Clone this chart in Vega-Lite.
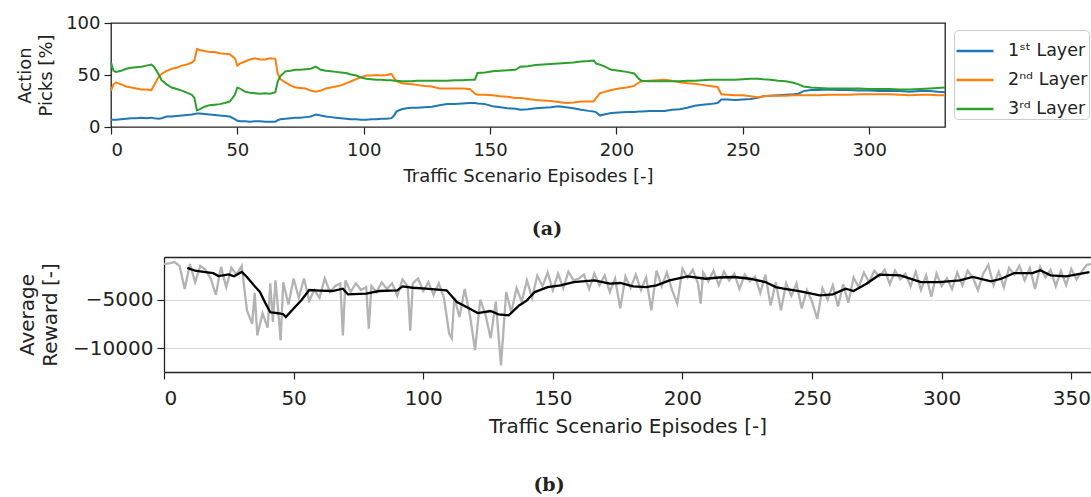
{
  "$schema": "https://vega.github.io/schema/vega-lite/v6.json",
  "background": "white",
  "padding": {"left": 15, "top": 13, "right": 0, "bottom": 0},
  "datasets": {
    "picks": [
      {"e": 0, "l1": 7, "l2": 35, "l3": 62},
      {"e": 1, "l1": 7, "l2": 41, "l3": 54},
      {"e": 2, "l1": 7, "l2": 43, "l3": 53},
      {"e": 4, "l1": 7.5, "l2": 41, "l3": 54},
      {"e": 6, "l1": 8, "l2": 39, "l3": 56},
      {"e": 8, "l1": 8.5, "l2": 38, "l3": 57},
      {"e": 10, "l1": 8.5, "l2": 37, "l3": 57.5},
      {"e": 12, "l1": 9, "l2": 36, "l3": 58},
      {"e": 14, "l1": 8.5, "l2": 36, "l3": 59},
      {"e": 16, "l1": 9, "l2": 35.5, "l3": 60},
      {"e": 17, "l1": 8.5, "l2": 40, "l3": 58},
      {"e": 19, "l1": 8, "l2": 49, "l3": 50},
      {"e": 20, "l1": 8.5, "l2": 51, "l3": 45},
      {"e": 22, "l1": 10, "l2": 54, "l3": 41},
      {"e": 24, "l1": 10, "l2": 56, "l3": 38},
      {"e": 26, "l1": 10.5, "l2": 57, "l3": 36.5},
      {"e": 28, "l1": 11, "l2": 59, "l3": 35},
      {"e": 30, "l1": 11.5, "l2": 60, "l3": 33},
      {"e": 32, "l1": 12, "l2": 62, "l3": 31},
      {"e": 33, "l1": 12.5, "l2": 64, "l3": 28},
      {"e": 34, "l1": 13, "l2": 75, "l3": 16},
      {"e": 35, "l1": 13, "l2": 74, "l3": 17},
      {"e": 37, "l1": 12.5, "l2": 73, "l3": 19.5},
      {"e": 39, "l1": 12, "l2": 72, "l3": 21},
      {"e": 41, "l1": 11.5, "l2": 72, "l3": 21.5},
      {"e": 43, "l1": 11, "l2": 71, "l3": 22},
      {"e": 45, "l1": 10.5, "l2": 70.5, "l3": 23},
      {"e": 47, "l1": 10, "l2": 70, "l3": 24.5},
      {"e": 49, "l1": 7.5, "l2": 66, "l3": 31},
      {"e": 50, "l1": 6, "l2": 59, "l3": 38},
      {"e": 51, "l1": 5.5, "l2": 61, "l3": 37},
      {"e": 53, "l1": 5.5, "l2": 63, "l3": 34},
      {"e": 55, "l1": 5, "l2": 65, "l3": 33},
      {"e": 57, "l1": 5.5, "l2": 66, "l3": 32.5},
      {"e": 59, "l1": 5.5, "l2": 65, "l3": 32},
      {"e": 61, "l1": 5, "l2": 65, "l3": 32.5},
      {"e": 63, "l1": 5, "l2": 66, "l3": 32},
      {"e": 65, "l1": 5, "l2": 65.5, "l3": 33.5},
      {"e": 66, "l1": 6.5, "l2": 51, "l3": 44},
      {"e": 67, "l1": 7.5, "l2": 46, "l3": 49},
      {"e": 69, "l1": 8, "l2": 43, "l3": 53.5},
      {"e": 71, "l1": 8.5, "l2": 40, "l3": 54},
      {"e": 73, "l1": 9, "l2": 38, "l3": 55},
      {"e": 75, "l1": 9, "l2": 37.5, "l3": 55},
      {"e": 77, "l1": 9.5, "l2": 37, "l3": 55.5},
      {"e": 79, "l1": 10, "l2": 35, "l3": 56},
      {"e": 81, "l1": 12, "l2": 34, "l3": 58},
      {"e": 83, "l1": 11, "l2": 35, "l3": 55},
      {"e": 85, "l1": 10, "l2": 37, "l3": 54},
      {"e": 87, "l1": 9.5, "l2": 38, "l3": 53.5},
      {"e": 89, "l1": 9, "l2": 39, "l3": 53},
      {"e": 91, "l1": 8.5, "l2": 40, "l3": 52.5},
      {"e": 93, "l1": 8, "l2": 42, "l3": 52},
      {"e": 95, "l1": 7.5, "l2": 44, "l3": 50.5},
      {"e": 97, "l1": 7.5, "l2": 46, "l3": 49.5},
      {"e": 99, "l1": 7, "l2": 48, "l3": 47.5},
      {"e": 101, "l1": 7, "l2": 49.5, "l3": 46.5},
      {"e": 103, "l1": 7.5, "l2": 49.5, "l3": 46},
      {"e": 105, "l1": 7.5, "l2": 50, "l3": 45.5},
      {"e": 107, "l1": 8, "l2": 49.5, "l3": 45.5},
      {"e": 109, "l1": 8, "l2": 50, "l3": 45},
      {"e": 111, "l1": 8.5, "l2": 51, "l3": 45},
      {"e": 112, "l1": 11, "l2": 47, "l3": 44.5},
      {"e": 113, "l1": 15, "l2": 44, "l3": 44.5},
      {"e": 115, "l1": 17, "l2": 42, "l3": 44},
      {"e": 117, "l1": 18, "l2": 41.5, "l3": 44},
      {"e": 119, "l1": 18.5, "l2": 41, "l3": 44},
      {"e": 121, "l1": 18.5, "l2": 40.5, "l3": 44.5},
      {"e": 124, "l1": 19, "l2": 39.5, "l3": 44.5},
      {"e": 127, "l1": 19.5, "l2": 39, "l3": 44.5},
      {"e": 130, "l1": 21, "l2": 37, "l3": 44.5},
      {"e": 133, "l1": 22, "l2": 37, "l3": 44.5},
      {"e": 136, "l1": 22, "l2": 37, "l3": 45},
      {"e": 139, "l1": 22.5, "l2": 37, "l3": 45},
      {"e": 142, "l1": 23, "l2": 36.5, "l3": 45.5},
      {"e": 144, "l1": 23, "l2": 32, "l3": 45.5},
      {"e": 145, "l1": 22.5, "l2": 31, "l3": 52},
      {"e": 148, "l1": 22, "l2": 31, "l3": 52.5},
      {"e": 151, "l1": 20, "l2": 30.5, "l3": 53.5},
      {"e": 154, "l1": 19, "l2": 29.5, "l3": 54},
      {"e": 157, "l1": 18, "l2": 29, "l3": 54.5},
      {"e": 160, "l1": 17.5, "l2": 28, "l3": 55},
      {"e": 162, "l1": 16.5, "l2": 28, "l3": 58},
      {"e": 165, "l1": 17, "l2": 27, "l3": 58.5},
      {"e": 168, "l1": 18, "l2": 26, "l3": 59.5},
      {"e": 171, "l1": 18.5, "l2": 25.5, "l3": 60},
      {"e": 174, "l1": 19, "l2": 25, "l3": 60.5},
      {"e": 177, "l1": 20, "l2": 24, "l3": 61},
      {"e": 180, "l1": 19, "l2": 23, "l3": 61.5},
      {"e": 183, "l1": 18, "l2": 23.5, "l3": 62},
      {"e": 186, "l1": 16.5, "l2": 24.5, "l3": 63},
      {"e": 189, "l1": 15.5, "l2": 24.5, "l3": 63.5},
      {"e": 191, "l1": 15, "l2": 24.5, "l3": 64},
      {"e": 192, "l1": 14, "l2": 28, "l3": 61},
      {"e": 193.5, "l1": 11, "l2": 32.5, "l3": 60},
      {"e": 195, "l1": 12, "l2": 33.5, "l3": 58.5},
      {"e": 198, "l1": 13.5, "l2": 35.5, "l3": 55},
      {"e": 201, "l1": 14, "l2": 37, "l3": 54},
      {"e": 204, "l1": 14.5, "l2": 38, "l3": 53},
      {"e": 207, "l1": 14.5, "l2": 39.5, "l3": 51.5},
      {"e": 209, "l1": 15, "l2": 43, "l3": 46},
      {"e": 210, "l1": 15, "l2": 44, "l3": 44.5},
      {"e": 213, "l1": 15.5, "l2": 44.5, "l3": 44},
      {"e": 216, "l1": 15.5, "l2": 45, "l3": 44},
      {"e": 219, "l1": 15.5, "l2": 45.5, "l3": 44},
      {"e": 222, "l1": 16.5, "l2": 44.5, "l3": 44},
      {"e": 225, "l1": 17, "l2": 43, "l3": 44},
      {"e": 228, "l1": 18.5, "l2": 42, "l3": 44.5},
      {"e": 231, "l1": 20.5, "l2": 41.5, "l3": 44.5},
      {"e": 234, "l1": 21.5, "l2": 40.5, "l3": 45},
      {"e": 237, "l1": 22, "l2": 39.5, "l3": 45.5},
      {"e": 240, "l1": 23, "l2": 38.5, "l3": 45.5},
      {"e": 241.5, "l1": 26.5, "l2": 31.5, "l3": 45.5},
      {"e": 244, "l1": 26.5, "l2": 31, "l3": 45.5},
      {"e": 247, "l1": 26, "l2": 30.5, "l3": 45.5},
      {"e": 250, "l1": 26.5, "l2": 30.5, "l3": 46},
      {"e": 253, "l1": 27, "l2": 29.5, "l3": 46.5},
      {"e": 256, "l1": 28, "l2": 28.5, "l3": 46.5},
      {"e": 258, "l1": 29.5, "l2": 29.5, "l3": 46},
      {"e": 261, "l1": 30, "l2": 30, "l3": 45.5},
      {"e": 264, "l1": 30.5, "l2": 30, "l3": 44.5},
      {"e": 267, "l1": 31, "l2": 30, "l3": 44},
      {"e": 270, "l1": 31.5, "l2": 30.5, "l3": 42.5},
      {"e": 272, "l1": 32, "l2": 30.5, "l3": 41},
      {"e": 274, "l1": 34.5, "l2": 30.5, "l3": 39},
      {"e": 277, "l1": 35.5, "l2": 30.5, "l3": 38},
      {"e": 280, "l1": 35.5, "l2": 30.5, "l3": 37.5},
      {"e": 284, "l1": 36, "l2": 31, "l3": 37},
      {"e": 288, "l1": 35.5, "l2": 31, "l3": 37},
      {"e": 292, "l1": 35.5, "l2": 31, "l3": 37},
      {"e": 296, "l1": 35, "l2": 31.5, "l3": 37},
      {"e": 300, "l1": 35, "l2": 31.5, "l3": 36.5},
      {"e": 304, "l1": 34.5, "l2": 31.5, "l3": 36.5},
      {"e": 308, "l1": 34.5, "l2": 31.5, "l3": 36.5},
      {"e": 312, "l1": 34.5, "l2": 31, "l3": 36},
      {"e": 316, "l1": 34, "l2": 30.5, "l3": 36},
      {"e": 320, "l1": 34.5, "l2": 31, "l3": 36.5},
      {"e": 324, "l1": 34.5, "l2": 31, "l3": 37},
      {"e": 327, "l1": 34, "l2": 30.5, "l3": 37.5},
      {"e": 330, "l1": 33.5, "l2": 30.5, "l3": 38}
    ],
    "reward": [
      {"e": 0, "r": -1300}, {"e": 2, "r": -1250}, {"e": 4, "r": -1100}, {"e": 6, "r": -1500},
      {"e": 8, "r": -3900}, {"e": 10, "r": -1300}, {"e": 12, "r": -3200}, {"e": 14, "r": -1500},
      {"e": 16, "r": -1900}, {"e": 18, "r": -2800}, {"e": 20, "r": -4500}, {"e": 22, "r": -1600},
      {"e": 24, "r": -3700}, {"e": 26, "r": -1700}, {"e": 28, "r": -2400}, {"e": 30, "r": -1500},
      {"e": 32, "r": -6100}, {"e": 34, "r": -7500}, {"e": 35, "r": -4300}, {"e": 36, "r": -8700},
      {"e": 38, "r": -6400}, {"e": 40, "r": -7900}, {"e": 41, "r": -3300}, {"e": 42, "r": -7300},
      {"e": 43, "r": -3000}, {"e": 44, "r": -6000}, {"e": 45, "r": -9200}, {"e": 46, "r": -3200},
      {"e": 48, "r": -5500}, {"e": 50, "r": -2800}, {"e": 52, "r": -4800}, {"e": 54, "r": -2800},
      {"e": 56, "r": -5100}, {"e": 58, "r": -4000}, {"e": 60, "r": -4800}, {"e": 62, "r": -2800},
      {"e": 64, "r": -4200}, {"e": 66, "r": -3600}, {"e": 68, "r": -3300}, {"e": 69, "r": -8700},
      {"e": 70, "r": -3000}, {"e": 72, "r": -4200}, {"e": 74, "r": -3300}, {"e": 76, "r": -4000},
      {"e": 78, "r": -3700}, {"e": 79, "r": -8000}, {"e": 80, "r": -3600}, {"e": 82, "r": -4200},
      {"e": 84, "r": -3200}, {"e": 86, "r": -3900}, {"e": 88, "r": -3300}, {"e": 90, "r": -4600},
      {"e": 92, "r": -2900}, {"e": 94, "r": -3600}, {"e": 95, "r": -8200}, {"e": 96, "r": -3300},
      {"e": 98, "r": -2800}, {"e": 100, "r": -4100}, {"e": 102, "r": -3200}, {"e": 104, "r": -4500},
      {"e": 106, "r": -3300}, {"e": 108, "r": -4800}, {"e": 110, "r": -8500}, {"e": 111, "r": -9000},
      {"e": 112, "r": -4800}, {"e": 114, "r": -6800}, {"e": 116, "r": -3900}, {"e": 118, "r": -6600},
      {"e": 120, "r": -10200}, {"e": 122, "r": -5000}, {"e": 124, "r": -6500}, {"e": 126, "r": -9000},
      {"e": 128, "r": -5200}, {"e": 130, "r": -11800}, {"e": 132, "r": -4200}, {"e": 134, "r": -6300},
      {"e": 136, "r": -3800}, {"e": 138, "r": -5200}, {"e": 140, "r": -3000}, {"e": 142, "r": -4800},
      {"e": 144, "r": -2500}, {"e": 146, "r": -3600}, {"e": 148, "r": -2200}, {"e": 150, "r": -4000},
      {"e": 152, "r": -2300}, {"e": 154, "r": -3800}, {"e": 156, "r": -2100}, {"e": 158, "r": -3000},
      {"e": 160, "r": -2800}, {"e": 162, "r": -2400}, {"e": 164, "r": -3900}, {"e": 166, "r": -2300},
      {"e": 168, "r": -3500}, {"e": 170, "r": -2500}, {"e": 172, "r": -4200}, {"e": 174, "r": -2800},
      {"e": 176, "r": -5900}, {"e": 178, "r": -2600}, {"e": 180, "r": -3800}, {"e": 182, "r": -2400},
      {"e": 184, "r": -4000}, {"e": 186, "r": -2700}, {"e": 188, "r": -6100}, {"e": 190, "r": -2000},
      {"e": 192, "r": -3600}, {"e": 194, "r": -2200}, {"e": 196, "r": -4000}, {"e": 198, "r": -5400},
      {"e": 200, "r": -1800}, {"e": 202, "r": -2700}, {"e": 204, "r": -1900}, {"e": 206, "r": -3300},
      {"e": 207, "r": -5400}, {"e": 208, "r": -2200}, {"e": 210, "r": -3100}, {"e": 212, "r": -2000},
      {"e": 214, "r": -3500}, {"e": 216, "r": -2100}, {"e": 218, "r": -3000}, {"e": 220, "r": -2300},
      {"e": 222, "r": -3900}, {"e": 224, "r": -2400}, {"e": 226, "r": -3100}, {"e": 228, "r": -2600},
      {"e": 230, "r": -4300}, {"e": 232, "r": -2400}, {"e": 234, "r": -5600}, {"e": 236, "r": -3200},
      {"e": 238, "r": -6100}, {"e": 240, "r": -3300}, {"e": 242, "r": -4600}, {"e": 244, "r": -3300},
      {"e": 246, "r": -5900}, {"e": 248, "r": -4000}, {"e": 250, "r": -5200}, {"e": 252, "r": -7000},
      {"e": 254, "r": -3800}, {"e": 256, "r": -5000}, {"e": 258, "r": -3500}, {"e": 260, "r": -5700},
      {"e": 262, "r": -3400}, {"e": 264, "r": -5300}, {"e": 266, "r": -2700}, {"e": 268, "r": -3700},
      {"e": 270, "r": -2200}, {"e": 272, "r": -3200}, {"e": 274, "r": -2000}, {"e": 276, "r": -2600},
      {"e": 278, "r": -1900}, {"e": 280, "r": -3400}, {"e": 282, "r": -2000}, {"e": 284, "r": -2900},
      {"e": 286, "r": -2300}, {"e": 288, "r": -3600}, {"e": 290, "r": -2100}, {"e": 292, "r": -4000},
      {"e": 294, "r": -2500}, {"e": 296, "r": -4700}, {"e": 298, "r": -2300}, {"e": 300, "r": -3600},
      {"e": 302, "r": -2800}, {"e": 304, "r": -3900}, {"e": 306, "r": -2200}, {"e": 308, "r": -3500},
      {"e": 310, "r": -2000}, {"e": 312, "r": -2700}, {"e": 314, "r": -4000}, {"e": 316, "r": -2300},
      {"e": 318, "r": -1400}, {"e": 320, "r": -3500}, {"e": 322, "r": -2100}, {"e": 324, "r": -3700},
      {"e": 326, "r": -1700}, {"e": 328, "r": -2400}, {"e": 330, "r": -1500}, {"e": 332, "r": -3000},
      {"e": 334, "r": -1700}, {"e": 336, "r": -3900}, {"e": 338, "r": -1600}, {"e": 340, "r": -2700},
      {"e": 342, "r": -1900}, {"e": 344, "r": -3600}, {"e": 346, "r": -2000}, {"e": 348, "r": -3500},
      {"e": 350, "r": -1800}, {"e": 352, "r": -2900}, {"e": 354, "r": -2100}, {"e": 356, "r": -1400},
      {"e": 358, "r": -1300}
    ],
    "smoothed": [
      {"e": 9, "m": -1700}, {"e": 12, "m": -2000}, {"e": 16, "m": -2150}, {"e": 19, "m": -2250},
      {"e": 21, "m": -2550}, {"e": 25, "m": -2380}, {"e": 27, "m": -2580}, {"e": 30, "m": -2130},
      {"e": 32, "m": -2650}, {"e": 35, "m": -3600}, {"e": 37, "m": -4200}, {"e": 39, "m": -5300},
      {"e": 41, "m": -6300}, {"e": 44, "m": -6400}, {"e": 46, "m": -6500}, {"e": 47, "m": -6800},
      {"e": 50, "m": -5900}, {"e": 53, "m": -5050}, {"e": 56, "m": -4000}, {"e": 60, "m": -4050},
      {"e": 65, "m": -4100}, {"e": 69, "m": -3860}, {"e": 71, "m": -4450}, {"e": 78, "m": -4380},
      {"e": 83, "m": -4100}, {"e": 90, "m": -4030}, {"e": 92, "m": -3620}, {"e": 96, "m": -3760},
      {"e": 101, "m": -3860}, {"e": 109, "m": -4030}, {"e": 113, "m": -5240}, {"e": 118, "m": -5930},
      {"e": 121, "m": -6380}, {"e": 126, "m": -6170}, {"e": 129, "m": -6520}, {"e": 133, "m": -6620},
      {"e": 137, "m": -5590}, {"e": 140, "m": -5070}, {"e": 143, "m": -4210}, {"e": 148, "m": -3690},
      {"e": 153, "m": -3520}, {"e": 158, "m": -3170}, {"e": 166, "m": -3000}, {"e": 172, "m": -3340},
      {"e": 176, "m": -3270}, {"e": 181, "m": -3620}, {"e": 186, "m": -3690}, {"e": 190, "m": -3520},
      {"e": 195, "m": -3000}, {"e": 202, "m": -2590}, {"e": 209, "m": -2830}, {"e": 214, "m": -2700},
      {"e": 220, "m": -2650}, {"e": 226, "m": -2830}, {"e": 232, "m": -3170}, {"e": 236, "m": -3690},
      {"e": 239, "m": -3860}, {"e": 245, "m": -4100}, {"e": 253, "m": -4550}, {"e": 258, "m": -4450},
      {"e": 263, "m": -3860}, {"e": 266, "m": -4100}, {"e": 271, "m": -3340}, {"e": 276, "m": -2410},
      {"e": 284, "m": -2480}, {"e": 292, "m": -3170}, {"e": 299, "m": -3170}, {"e": 307, "m": -3000},
      {"e": 312, "m": -2650}, {"e": 319, "m": -3100}, {"e": 323, "m": -2830}, {"e": 328, "m": -2240},
      {"e": 335, "m": -2240}, {"e": 338, "m": -1960}, {"e": 342, "m": -2480}, {"e": 348, "m": -2590},
      {"e": 357, "m": -2135}
    ]
  },
  "config": {
    "font": "DejaVu Sans",
    "view": {"stroke": "#222222", "strokeWidth": 1.3},
    "axis": {
      "domain": false,
      "grid": false,
      "domainColor": "#222222",
      "domainWidth": 1.3,
      "tickColor": "#222222",
      "tickSize": 7,
      "tickWidth": 1.2,
      "labelColor": "#222222",
      "titleColor": "#222222",
      "titleFontWeight": "normal",
      "labelFont": "DejaVu Sans",
      "titleFont": "DejaVu Sans"
    },
    "title": {"font": "DejaVu Serif", "fontWeight": "bold", "color": "#222222"}
  },
  "spacing": 17,
  "vconcat": [
    {
      "width": 834,
      "height": 104,
      "data": {"name": "picks"},
      "transform": [{"fold": ["l1", "l2", "l3"], "as": ["layer", "pct"]}],
      "title": {"text": "(a)", "orient": "bottom", "anchor": "middle", "frame": "group", "dx": 19, "offset": 35, "fontSize": 19},
      "mark": {"type": "line", "strokeWidth": 2},
      "encoding": {
        "x": {
          "field": "e", "type": "quantitative",
          "scale": {"domain": [0, 330], "nice": false, "zero": false},
          "axis": {"values": [0, 50, 100, 150, 200, 250, 300], "title": "Traffic Scenario Episodes [-]", "labelFontSize": 18, "titleFontSize": 18, "labelPadding": 7, "titlePadding": 8}
        },
        "y": {
          "field": "pct", "type": "quantitative",
          "scale": {"domain": [0, 100], "nice": false},
          "axis": {"values": [0, 50, 100], "title": ["Action", "Picks [%]"], "labelFontSize": 18, "titleFontSize": 18, "titleLineHeight": 21, "labelPadding": 4, "titlePadding": 10}
        },
        "color": {
          "field": "layer", "type": "nominal",
          "scale": {"domain": ["l1", "l2", "l3"], "range": ["#1f77b4", "#ff7f0e", "#2ca02c"]},
          "legend": {
            "title": null,
            "orient": "none",
            "legendX": 843,
            "legendY": 7,
            "labelExpr": "{'l1': '1ˢᵗ Layer', 'l2': '2ⁿᵈ Layer', 'l3': '3ʳᵈ Layer'}[datum.label]",
            "labelFontSize": 17.5,
            "labelColor": "#222222",
            "labelLimit": 300,
            "symbolType": "stroke",
            "symbolSize": 1369,
            "symbolStrokeWidth": 2.5,
            "labelOffset": 13,
            "rowPadding": -11.5,
            "padding": 1,
            "strokeColor": "#cccccc",
            "fillColor": "white",
            "cornerRadius": 4
          }
        }
      }
    },
    {
      "width": 980,
      "height": 115,
      "view": {"stroke": null},
      "title": {"text": "(b)", "orient": "bottom", "anchor": "middle", "frame": "group", "dx": -52, "offset": 40, "fontSize": 19},
      "resolve": {"axis": {"x": "independent"}},
      "layer": [
        {
          "data": {"name": "reward"},
          "mark": {"type": "line", "color": "#b3b3b3", "strokeWidth": 2.3, "clip": true},
          "encoding": {
            "x": {
              "field": "e", "type": "quantitative",
              "scale": {"domain": [0, 357.6], "range": [53, 980], "nice": false, "zero": false},
              "axis": {"values": [0, 50, 100, 150, 200, 250, 300, 350], "domain": true, "title": "Traffic Scenario Episodes [-]", "labelFontSize": 20, "titleFontSize": 20, "labelPadding": 9, "titlePadding": 8}
            },
            "y": {
              "field": "r", "type": "quantitative",
              "scale": {"domain": [-12480, -580], "nice": false, "zero": false},
              "axis": {"values": [-5000, -10000], "format": "d", "offset": -53, "domain": true, "grid": true, "gridColor": "#dddddd", "gridWidth": 1.2, "title": ["Average", "Reward [-]"], "labelFontSize": 20, "titleFontSize": 20, "titleLineHeight": 23, "labelPadding": 4, "titlePadding": 12}
            }
          }
        },
        {
          "data": {"name": "smoothed"},
          "mark": {"type": "line", "color": "black", "strokeWidth": 2.3, "clip": true},
          "encoding": {
            "x": {
              "field": "e", "type": "quantitative",
              "axis": {"orient": "top", "domain": true, "labels": false, "ticks": false, "title": null}
            },
            "y": {"field": "m", "type": "quantitative"}
          }
        }
      ]
    }
  ]
}
